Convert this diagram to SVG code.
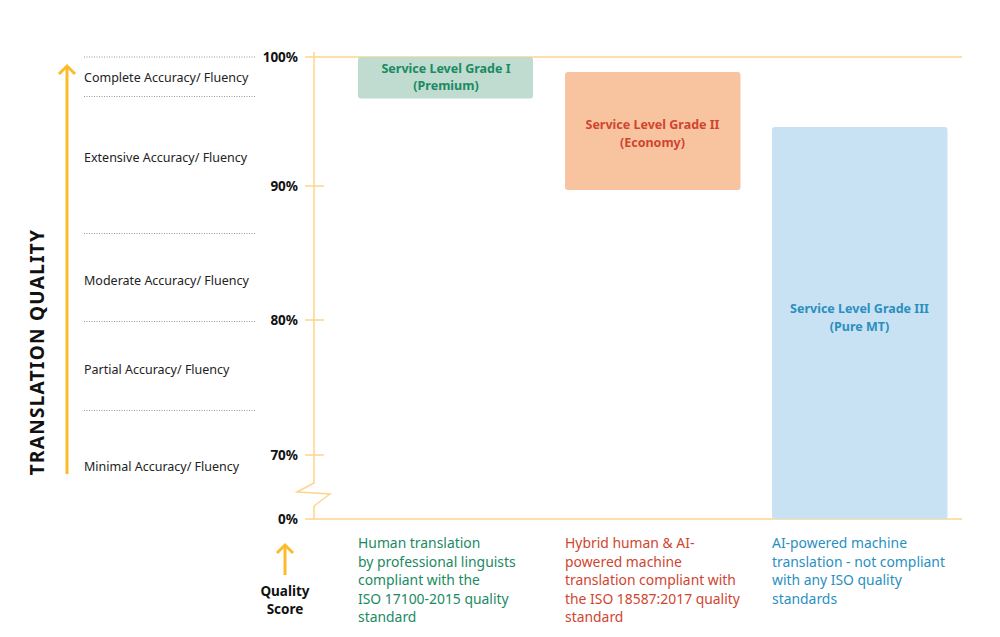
<svg xmlns="http://www.w3.org/2000/svg" width="1000" height="637" viewBox="0 0 1000 637">
<style>
.lvl{font-family:"Noto Sans","Liberation Sans",sans-serif;font-size:12.5px;fill:#222}
.pct{font-family:"Noto Sans","Liberation Sans",sans-serif;font-size:13.5px;font-weight:bold;fill:#111;text-anchor:end}
.dot{stroke:#999;stroke-width:1;stroke-dasharray:1 1.5}
.ax{stroke:#fdd58a;stroke-width:1.5;fill:none}
.btitle{font-family:"Noto Sans","Liberation Sans",sans-serif;font-size:12.5px;font-weight:bold;text-anchor:middle}
.desc{font-family:"Noto Sans","Liberation Sans",sans-serif;font-size:13.9px}
.orange{stroke:#fbbb2a;stroke-width:3;fill:none}
</style>
<rect width="1000" height="637" fill="#fff"/>
<g id="levels">
<line class="dot" x1="84" y1="57" x2="255" y2="57"/>
<line class="dot" x1="84" y1="96.5" x2="255" y2="96.5"/>
<line class="dot" x1="84" y1="233.5" x2="255" y2="233.5"/>
<line class="dot" x1="84" y1="321.5" x2="255" y2="321.5"/>
<line class="dot" x1="84" y1="410.5" x2="255" y2="410.5"/>
<text class="lvl" x="84" y="82">Complete Accuracy/ Fluency</text>
<text class="lvl" x="84" y="162">Extensive Accuracy/ Fluency</text>
<text class="lvl" x="84" y="285">Moderate Accuracy/ Fluency</text>
<text class="lvl" x="84" y="374">Partial Accuracy/ Fluency</text>
<text class="lvl" x="84" y="471">Minimal Accuracy/ Fluency</text>
</g>
<g id="quality-axis">
<line class="orange" x1="67" y1="66" x2="67" y2="474"/>
<polyline class="orange" points="59,74 67,66 75,74"/>
<text x="44" y="352" transform="rotate(-90 44 352)" text-anchor="middle" font-family="'Noto Sans','Liberation Sans',sans-serif" font-size="19" font-weight="bold" letter-spacing="1.3" fill="#111">TRANSLATION QUALITY</text>
</g>
<g id="score-axis">
<polyline class="ax" points="314,52 314,483 297,492 330,494 314,506 314,519"/>
<line class="ax" x1="305" y1="57" x2="962" y2="57"/>
<line class="ax" x1="305" y1="519" x2="962" y2="519"/>
<line class="ax" x1="305" y1="186" x2="324" y2="186"/>
<line class="ax" x1="305" y1="320" x2="324" y2="320"/>
<line class="ax" x1="305" y1="455" x2="324" y2="455"/>
<text class="pct" x="298" y="62">100%</text>
<text class="pct" x="298" y="191">90%</text>
<text class="pct" x="298" y="325">80%</text>
<text class="pct" x="298" y="460">70%</text>
<text class="pct" x="298" y="524">0%</text>
</g>
<g id="grade1">
<rect x="358" y="57" width="175" height="41.5" rx="3" fill="#c0dbd0"/>
<text class="btitle" x="446" y="73" fill="#1a8a62">Service Level Grade I</text>
<text class="btitle" x="446" y="90" fill="#1a8a62">(Premium)</text>
</g>
<g id="grade2">
<rect x="565" y="72" width="175.5" height="118" rx="3" fill="#f8c4a0"/>
<text class="btitle" x="652.5" y="129" fill="#d0452f">Service Level Grade II</text>
<text class="btitle" x="652.5" y="147" fill="#d0452f">(Economy)</text>
</g>
<g id="grade3">
<rect x="772" y="127" width="175.5" height="392" rx="3" fill="#c8e2f3"/>
<text class="btitle" x="859.5" y="313" fill="#2a8fbf">Service Level Grade III</text>
<text class="btitle" x="859.5" y="331" fill="#2a8fbf">(Pure MT)</text>
</g>
<g id="descriptions">
<text class="desc" fill="#1a8a62"><tspan x="358" y="548">Human translation</tspan><tspan x="358" y="567">by professional linguists</tspan><tspan x="358" y="585">compliant with the</tspan><tspan x="358" y="604">ISO 17100-2015 quality</tspan><tspan x="358" y="622">standard</tspan></text>
<text class="desc" fill="#d0452f"><tspan x="565" y="548">Hybrid human &amp; AI-</tspan><tspan x="565" y="567">powered machine</tspan><tspan x="565" y="585">translation compliant with</tspan><tspan x="565" y="604">the ISO 18587:2017 quality</tspan><tspan x="565" y="622">standard</tspan></text>
<text class="desc" fill="#2a8fbf"><tspan x="772" y="548">AI-powered machine</tspan><tspan x="772" y="567">translation - not compliant</tspan><tspan x="772" y="585">with any ISO quality</tspan><tspan x="772" y="604">standards</tspan></text>
</g>
<g id="quality-score">
<line class="orange" x1="285" y1="545" x2="285" y2="575"/>
<polyline class="orange" points="277,553 285,545 293,553"/>
<text font-family="'Noto Sans','Liberation Sans',sans-serif" font-size="13.5" font-weight="bold" fill="#111" text-anchor="middle"><tspan x="285" y="596">Quality</tspan><tspan x="285" y="614">Score</tspan></text>
</g>
</svg>
